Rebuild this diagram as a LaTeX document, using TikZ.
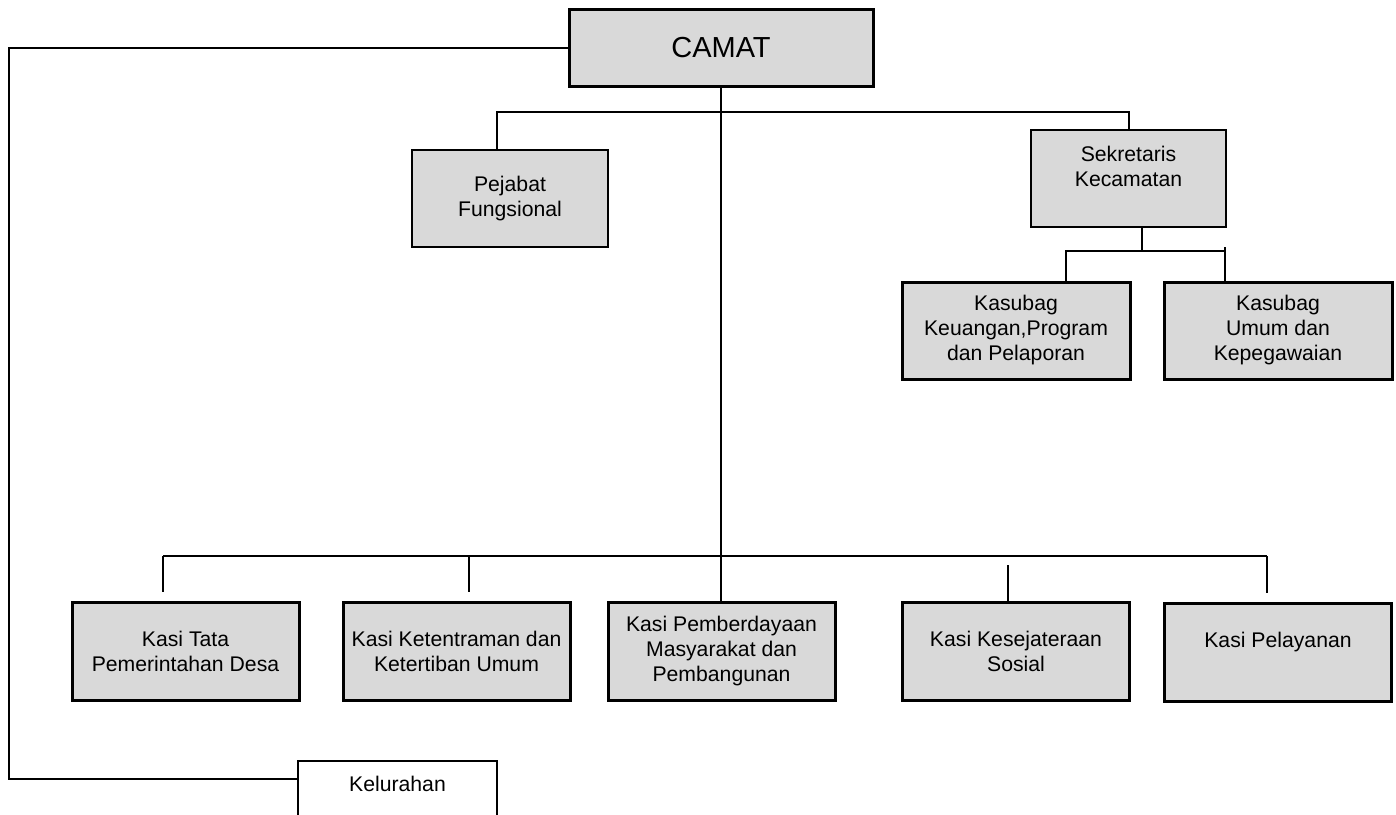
\documentclass[tikz,border=0pt]{standalone}
\usepackage{fontspec}
\setmainfont{Liberation Sans}
\usetikzlibrary{positioning, calc}
\definecolor{boxgray}{HTML}{D9D9D9}
\tikzset{
  orgbox/.style={rectangle, draw=black, line width=1pt, fill=boxgray, align=center, inner sep=2pt, font=\fontsize{10.6}{12.5}\selectfont},
  orgboxthick/.style={orgbox, line width=1.5pt},
  kasibox/.style={orgboxthick, minimum width=113.5pt, minimum height=49pt},
  link/.style={line width=1pt}
}

\begin{document}
\begin{tikzpicture}[x=0.5pt, y=-0.5pt]
\clip (0,0) rectangle (1396,814);

% Camat
\node[orgboxthick, minimum width=152pt, minimum height=38.5pt, font=\fontsize{14.5}{17}\selectfont] (camat) at (721,47.5) {CAMAT};

% Staf and sekretariat
\node[orgbox, minimum width=98pt, minimum height=48.5pt] (pejabat) at (510,198.5) {Pejabat\\Fungsional};
\node[orgbox, minimum width=97.5pt, minimum height=48.5pt] (sekretaris) at (1128.5,178.5) {Sekretaris\\Kecamatan\\~};
\node[orgboxthick, minimum width=114pt, minimum height=48.5pt] (keuangan) at (1016,330.5) {Kasubag\\Keuangan,Program\\dan Pelaporan};
\node[orgboxthick, minimum width=114pt, minimum height=48.5pt] (umum) at (1278,330.5) {Kasubag\\Umum dan\\Kepegawaian};

% Seksi
\node[kasibox] (tata) at (185.5,651) {Kasi Tata\\Pemerintahan Desa};
\node[kasibox] (tibum) at (456.5,651) {Kasi Ketentraman dan\\Ketertiban Umum};
\node[kasibox] (pmd) at (721.5,651) {Kasi Pemberdayaan\\Masyarakat dan\\Pembangunan};
\node[kasibox] (kesos) at (1016,651) {Kasi Kesejateraan\\Sosial};
\node[kasibox] (pelayanan) at (1278,652) {Kasi Pelayanan\\~};

% Kelurahan
\node[orgbox, fill=white, minimum width=99.5pt, minimum height=48pt] (kelurahan) at (397.5,809) {Kelurahan\\~\\~};

% Connectors
\coordinate (topbar) at (0,112);
\draw[link] ([xshift=-6.5pt]pejabat.north) |- (topbar -| sekretaris.north) -- (sekretaris.north);
\draw[link] (camat.south) -- (camat.south |- pmd.north);

\coordinate (sekbar) at (0,251);
\coordinate (sekdown) at ([xshift=6.75pt]sekretaris.south);
\coordinate (keuup) at ([xshift=25pt]keuangan.north);
\coordinate (umumup) at ([xshift=-26.5pt]umum.north);
\draw[link] (sekdown) -- (sekdown |- sekbar);
\draw[link] (keuup) |- (umumup |- sekbar);
\draw[link] (umumup |- 0,247) -- (umumup);

\coordinate (kasibar) at (0,556);
\coordinate (barL) at ([xshift=-11.25pt]tata.north);
\coordinate (barR) at ([xshift=-5.5pt]pelayanan.north);
\draw[link] (barL |- kasibar) -- (barR |- kasibar);
\foreach \n/\dx/\ytop/\gap in {tata/-11.25/556/4.5, tibum/6.25/556/4.5, kesos/-4/565/0, pelayanan/-5.5/556/4.5}{
  \coordinate (d) at ([xshift=\dx pt]\n.north);
  \draw[link] (d |- 0,\ytop) -- ([yshift=\gap pt]d);
}

\coordinate (rail) at (9,0);
\coordinate (kelin) at ([yshift=-9.5pt]kelurahan.north west);
\draw[link] (camat.west) -| (kelin -| rail) -- (kelin);

\end{tikzpicture}
\end{document}
